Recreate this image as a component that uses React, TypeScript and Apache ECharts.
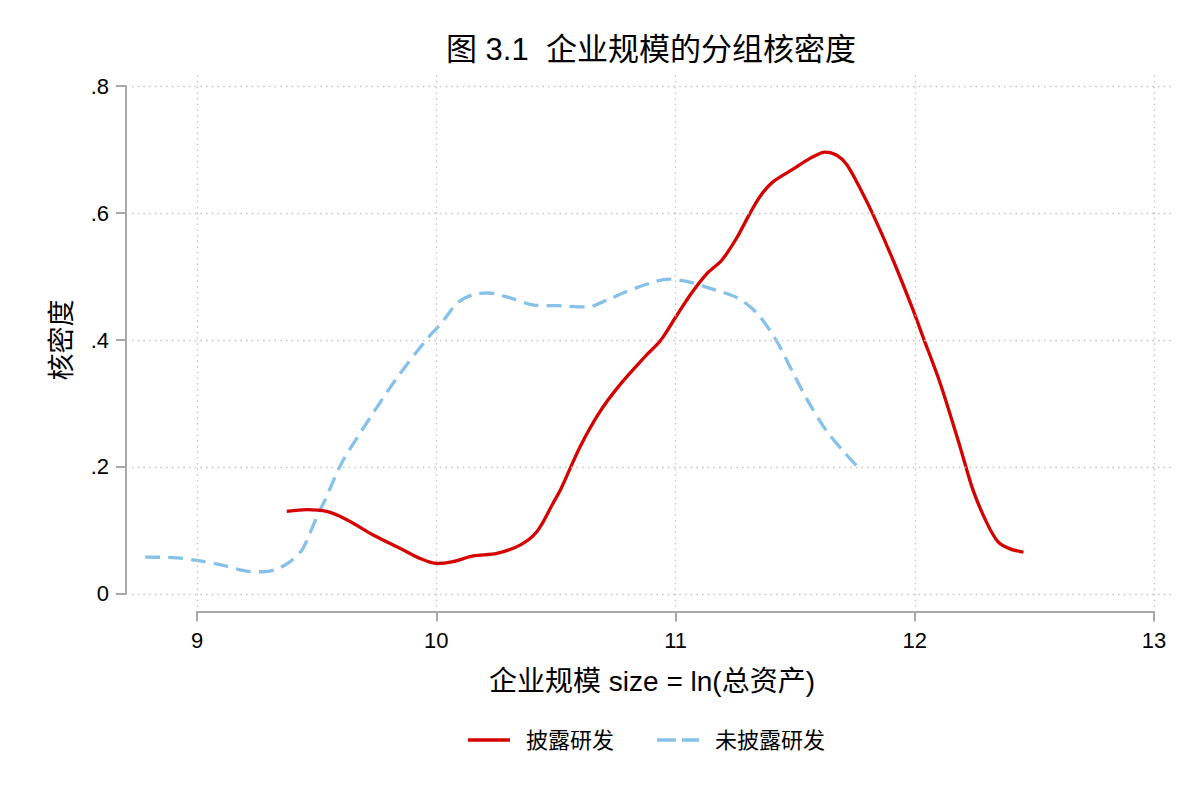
import React, { useEffect, useRef } from "react";
import * as echarts from "echarts";

const TITLE = "图 3.1  企业规模的分组核密度";
const X_NAME = "企业规模 size = ln(总资产)";
const Y_NAME = "核密度";
const SERIES_NAMES = ["披露研发", "未披露研发"];
const X_TICKS = [9, 10, 11, 12, 13];
const Y_TICKS = [0, 0.2, 0.4, 0.6, 0.8];
const Y_TICK_LABELS = ["0", ".2", ".4", ".6", ".8"];

// 披露研发 (solid red)
const disclosedX = [
  9.375, 9.459, 9.542, 9.626, 9.736, 9.848, 9.932, 10.002, 10.07, 10.154, 10.253,
  10.35, 10.42, 10.488, 10.52, 10.601, 10.68, 10.762, 10.873, 10.939, 11.002, 11.067,
  11.132, 11.194, 11.256, 11.303, 11.353, 11.407, 11.491, 11.562, 11.625, 11.674,
  11.716, 11.771, 11.826, 11.909, 11.993, 12.034, 12.106, 12.189, 12.243, 12.301,
  12.348, 12.398, 12.454,
];
const disclosedY = [
  0.13, 0.133, 0.13, 0.117, 0.093, 0.072, 0.056, 0.048, 0.051, 0.06, 0.064,
  0.077, 0.098, 0.143, 0.165, 0.232, 0.285, 0.327, 0.374, 0.4, 0.437, 0.474,
  0.505, 0.526, 0.561, 0.594, 0.626, 0.649, 0.669, 0.686, 0.696, 0.691,
  0.676, 0.639, 0.597, 0.526, 0.447, 0.405, 0.332, 0.232, 0.164, 0.112,
  0.082, 0.071, 0.066,
];

// 未披露研发 (dashed light blue)
const undisclosedX = [
  8.783, 8.915, 9.013, 9.109, 9.208, 9.276, 9.333, 9.389, 9.438, 9.472, 9.507,
  9.535, 9.604, 9.717, 9.829, 9.957, 10.022, 10.087, 10.149, 10.215, 10.312,
  10.408, 10.505, 10.633, 10.714, 10.793, 10.889, 10.971, 11.051, 11.148, 11.26,
  11.341, 11.42, 11.485, 11.55, 11.629, 11.708, 11.766,
];
const undisclosedY = [
  0.058, 0.057, 0.052, 0.045, 0.036, 0.035, 0.039, 0.051, 0.069, 0.096, 0.127,
  0.148, 0.206, 0.274, 0.337, 0.4, 0.427, 0.458, 0.471, 0.474, 0.466,
  0.455, 0.454, 0.452, 0.463, 0.476, 0.489, 0.496, 0.492, 0.481, 0.466,
  0.442, 0.4, 0.353, 0.306, 0.258, 0.222, 0.198,
];

const FONT = "'Liberation Sans', Arial, 'Noto Sans CJK SC', sans-serif";
const RED = "#d50000";
const BLUE = "#86c1ea";
const AXIS_GRAY = "#a8a8a8";

const W = 1200;
const H = 800;
// plot region (pixels) and its data extent
const PLOT = { left: 132, right: 1172, top: 73, bottom: 607 };
const X_RANGE = [8.728, 13.075];
const Y_RANGE = [-0.0205, 0.8205];

const px = (v: number) =>
  PLOT.left + ((v - X_RANGE[0]) / (X_RANGE[1] - X_RANGE[0])) * (PLOT.right - PLOT.left);
const py = (v: number) =>
  PLOT.top + ((Y_RANGE[1] - v) / (Y_RANGE[1] - Y_RANGE[0])) * (PLOT.bottom - PLOT.top);

const X_AXIS_Y = 611.5; // offset x axis line
const Y_AXIS_X = 126; // offset y axis line

const SOLID_ICON = "path://M0,0H42V3.4H0Z";
const DASH_ICON = "path://M0,0H19V3.4H0Z M25,0H42V3.4H25Z";

export default function App() {
  const ref = useRef<HTMLDivElement>(null);

  useEffect(() => {
    if (!ref.current) return;
    const chart = echarts.init(ref.current, undefined, { renderer: "svg" });

    const xLo = X_TICKS[0];
    const xHi = X_TICKS[X_TICKS.length - 1];
    const yLo = Y_TICKS[0];
    const yHi = Y_TICKS[Y_TICKS.length - 1];

    const option: any = {
      animation: false,
      backgroundColor: "#ffffff",
      textStyle: { fontFamily: FONT },
      title: {
        text: TITLE,
        left: 446,
        top: 34,
        padding: 0,
        textStyle: { fontSize: 31, fontWeight: "normal", color: "#000", fontFamily: FONT },
      },
      legend: {
        data: [
          { name: SERIES_NAMES[0], icon: SOLID_ICON },
          { name: SERIES_NAMES[1], icon: DASH_ICON },
        ],
        left: 468,
        top: 729,
        padding: 0,
        itemWidth: 42,
        itemHeight: 3.4,
        itemGap: 43,
        symbolKeepAspect: false,
        textStyle: { fontSize: 22, color: "#000", fontFamily: FONT, padding: [0, 0, 0, 11] },
      },
      grid: [
        {
          left: PLOT.left,
          width: PLOT.right - PLOT.left,
          top: PLOT.top,
          height: PLOT.bottom - PLOT.top,
          containLabel: false,
          outerBoundsMode: "none",
        },
        {
          left: px(xLo),
          width: px(xHi) - px(xLo),
          top: X_AXIS_Y - 1,
          height: 1,
          containLabel: false,
          outerBoundsMode: "none",
        },
        {
          left: Y_AXIS_X,
          width: 1,
          top: py(yHi),
          height: py(yLo) - py(yHi),
          containLabel: false,
          outerBoundsMode: "none",
        },
      ],
      xAxis: [
        {
          gridIndex: 0,
          type: "value",
          min: X_RANGE[0],
          max: X_RANGE[1],
          axisLine: { show: false },
          axisTick: { show: false },
          axisLabel: { show: false },
          splitLine: { show: false },
          name: X_NAME,
          nameLocation: "middle",
          nameGap: 60,
          nameTextStyle: { fontSize: 28, color: "#000", fontFamily: FONT },
        },
        {
          gridIndex: 1,
          type: "value",
          min: xLo,
          max: xHi,
          interval: 1,
          axisLine: { show: true, onZero: false, lineStyle: { color: AXIS_GRAY, width: 2 } },
          axisTick: { show: true, inside: false, length: 10, lineStyle: { color: AXIS_GRAY, width: 2 } },
          axisLabel: { show: true, fontSize: 22, color: "#000", margin: 18, fontFamily: FONT },
          splitLine: { show: false },
        },
        { gridIndex: 2, type: "value", min: 0, max: 1, show: false },
      ],
      yAxis: [
        {
          gridIndex: 0,
          type: "value",
          min: Y_RANGE[0],
          max: Y_RANGE[1],
          axisLine: { show: false },
          axisTick: { show: false },
          axisLabel: { show: false },
          splitLine: { show: false },
          name: Y_NAME,
          nameLocation: "middle",
          nameRotate: 90,
          nameGap: 57,
          nameTextStyle: { fontSize: 27, color: "#000", fontFamily: FONT },
        },
        { gridIndex: 1, type: "value", min: 0, max: 1, show: false },
        {
          gridIndex: 2,
          type: "value",
          min: yLo,
          max: yHi,
          interval: 0.2,
          axisLine: { show: true, onZero: false, lineStyle: { color: AXIS_GRAY, width: 2 } },
          axisTick: { show: true, inside: false, length: 10, lineStyle: { color: AXIS_GRAY, width: 2 } },
          axisLabel: {
            show: true,
            fontSize: 22,
            color: "#000",
            margin: 17,
            fontFamily: FONT,
            formatter: (v: number) => {
              const i = Y_TICKS.findIndex((t) => Math.abs(t - v) < 1e-9);
              return i >= 0 ? Y_TICK_LABELS[i] : "";
            },
          },
          splitLine: { show: false },
        },
      ],
      series: [
        {
          type: "line",
          xAxisIndex: 0,
          yAxisIndex: 0,
          data: [],
          silent: true,
          z: 1,
          markLine: {
            silent: true,
            animation: false,
            symbol: ["none", "none"],
            label: { show: false },
            emphasis: { disabled: true },
            lineStyle: { color: "#c6c6c6", type: [1.6, 4.1], width: 1.3 },
            data: [
              ...X_TICKS.map((v) => ({ xAxis: v })),
              ...Y_TICKS.map((v) => ({ yAxis: v })),
            ],
          },
        },
        {
          name: SERIES_NAMES[0],
          type: "line",
          xAxisIndex: 0,
          yAxisIndex: 0,
          z: 3,
          symbol: "none",
          smooth: 0.3,
          color: RED,
          itemStyle: { color: RED },
          lineStyle: { color: RED, width: 3.3 },
          data: disclosedX.map((x, i) => [x, disclosedY[i]]),
        },
        {
          name: SERIES_NAMES[1],
          type: "line",
          xAxisIndex: 0,
          yAxisIndex: 0,
          z: 2,
          symbol: "none",
          smooth: 0.3,
          color: BLUE,
          itemStyle: { color: BLUE },
          lineStyle: { color: BLUE, width: 3.3, type: [15, 8] },
          data: undisclosedX.map((x, i) => [x, undisclosedY[i]]),
        },
      ],
    };

    chart.setOption(option);
    return () => chart.dispose();
  }, []);

  return (
    <div
      ref={ref}
      style={{ position: "fixed", left: 0, top: 0, width: W, height: H, background: "#fff" }}
    />
  );
}
